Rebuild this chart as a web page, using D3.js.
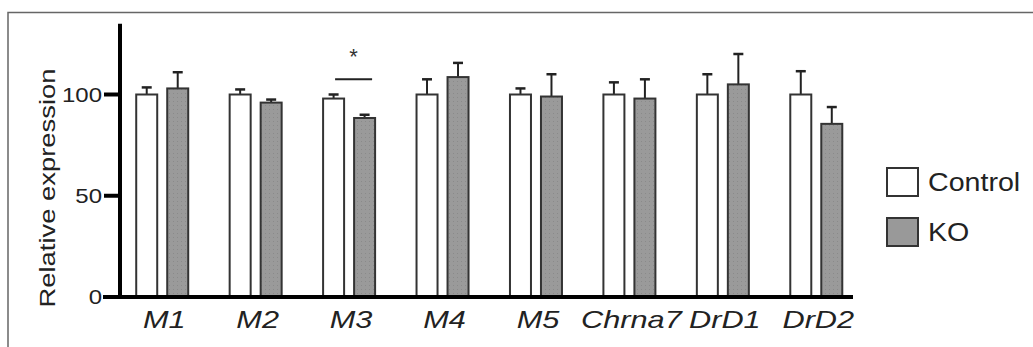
<!DOCTYPE html>
<html>
<head>
<meta charset="utf-8">
<script src="https://cdn.jsdelivr.net/npm/d3@7"></script>
<style>
  html, body { margin: 0; padding: 0; background: #fff; }
  svg { display: block; font-family: Arial, "Liberation Sans", sans-serif; }
</style>
</head>
<body>
<svg id="chart" width="1033" height="347"></svg>
<script>
// Genes on the x axis
const genes = ['M1', 'M2', 'M3', 'M4', 'M5', 'Chrna7', 'DrD1', 'DrD2'];
const groups = ['Control', 'KO'];

// Mean relative expression
const controlMean = [100, 100, 98, 100, 100, 100, 100, 100];
const koMean = [103, 96, 88.4, 108.6, 99, 98, 105, 85.5];

// Upper error (mean + SEM)
const controlErr = [103.5, 102.5, 100, 107.5, 103, 106, 110, 111.5];
const koErr = [111, 97.5, 90, 115.6, 110, 107.5, 120, 93.8];

const yTicks = [0, 50, 100];

const svg = d3.select('#chart');

// outer frame (top + left visible)
svg.append('path')
    .attr('d', 'M8,347 L8,12.5 L1033,12.5')
    .attr('fill', 'none')
    .attr('stroke', '#666')
    .attr('stroke-width', 1.5);

const x0 = d3.scaleBand().domain(genes).range([115.5, 863]).paddingInner(0).paddingOuter(0);
const y = d3.scaleLinear().domain([0, 100]).range([297, 94.5]);

const barW = 21;
const offsets = { Control: -26, KO: 5 };

// dotted pattern for KO bars
const defs = svg.append('defs');
const pat = defs.append('pattern')
    .attr('id', 'dots')
    .attr('width', 4).attr('height', 4)
    .attr('patternUnits', 'userSpaceOnUse');
pat.append('rect').attr('width', 4).attr('height', 4).attr('fill', '#9a9a9a');
pat.append('rect').attr('x', 1).attr('y', 1).attr('width', 1).attr('height', 1).attr('fill', '#8a8a8a');

const rows = genes.map((g, i) => ([
    { gene: g, group: 'Control', v: controlMean[i], e: controlErr[i] },
    { gene: g, group: 'KO', v: koMean[i], e: koErr[i] },
])).flat();

const cx = d => x0(d.gene) + x0.bandwidth() / 2 + offsets[d.group];

// error bars (drawn behind bars)
const eb = svg.append('g').attr('stroke', '#222').attr('stroke-width', 2);
eb.selectAll('.stem').data(rows).join('line')
    .attr('x1', d => cx(d) + barW / 2).attr('x2', d => cx(d) + barW / 2)
    .attr('y1', d => y(d.v)).attr('y2', d => y(d.e));
eb.selectAll('.cap').data(rows).join('line')
    .attr('x1', d => cx(d) + barW / 2 - 5).attr('x2', d => cx(d) + barW / 2 + 5)
    .attr('y1', d => y(d.e)).attr('y2', d => y(d.e))
    .attr('stroke-width', 2.5);

// bars
svg.append('g').selectAll('rect').data(rows).join('rect')
    .attr('x', d => cx(d))
    .attr('y', d => y(d.v))
    .attr('width', barW)
    .attr('height', d => y(0) - y(d.v))
    .attr('fill', d => d.group === 'KO' ? 'url(#dots)' : '#fff')
    .attr('stroke', '#333')
    .attr('stroke-width', 2);

// y axis
const yAxis = svg.append('g').attr('transform', 'translate(120,0)');
yAxis.append('line')
    .attr('x1', 0).attr('x2', 0)
    .attr('y1', y(135)).attr('y2', y(0) + 1)
    .attr('stroke', '#000').attr('stroke-width', 4);
yAxis.selectAll('.tick').data(yTicks).join('line')
    .attr('x1', -16).attr('x2', 0)
    .attr('y1', d => y(d)).attr('y2', d => y(d))
    .attr('stroke', '#000').attr('stroke-width', 4);
yAxis.selectAll('text').data(yTicks).join('text')
    .attr('transform', d => `translate(-18,${y(d)}) scale(1.2,1)`)
    .attr('dy', '0.36em')
    .attr('text-anchor', 'end')
    .attr('font-size', 20)
    .attr('fill', '#222')
    .text(d => d);

// x axis
svg.append('line')
    .attr('x1', 103).attr('x2', 853)
    .attr('y1', y(0)).attr('y2', y(0))
    .attr('stroke', '#000').attr('stroke-width', 4);

svg.append('g').selectAll('text').data(genes).join('text')
    .attr('transform', d => `translate(${x0(d) + x0.bandwidth() / 2 + 2},328) scale(1.28,1)`)
    .attr('text-anchor', 'middle')
    .attr('font-size', 24)
    .attr('font-style', 'italic')
    .attr('fill', '#222')
    .text(d => d);

// y label
svg.append('text')
    .attr('transform', 'translate(55,188) rotate(-90)')
    .attr('text-anchor', 'middle')
    .attr('font-size', 22)
    .attr('textLength', 239)
    .attr('lengthAdjust', 'spacingAndGlyphs')
    .attr('fill', '#222')
    .text('Relative expression');

// significance marker on M3
const sigX1 = x0('M3') + x0.bandwidth() / 2 - 14;
const sigX2 = x0('M3') + x0.bandwidth() / 2 + 23;
svg.append('line')
    .attr('x1', sigX1).attr('x2', sigX2)
    .attr('y1', y(107.5)).attr('y2', y(107.5))
    .attr('stroke', '#222').attr('stroke-width', 2);
svg.append('text')
    .attr('x', (sigX1 + sigX2) / 2)
    .attr('y', y(107.5) - 4)
    .attr('dy', '-0.5em')
    .attr('text-anchor', 'middle')
    .attr('font-size', 22)
    .attr('fill', '#333')
    .text('*');

// legend
const legend = svg.append('g').attr('transform', 'translate(887,168)');
const li = legend.selectAll('g').data(groups).join('g')
    .attr('transform', (d, i) => `translate(0,${i * 50})`);
li.append('rect')
    .attr('width', 31).attr('height', 28)
    .attr('fill', d => d === 'KO' ? '#999999' : '#fff')
    .attr('stroke', '#333').attr('stroke-width', 2);
li.append('text')
    .attr('transform', 'translate(41,23) scale(1.1,1)')
    .attr('font-size', 26)
    .attr('fill', '#222')
    .text(d => d);
</script>
</body>
</html>
